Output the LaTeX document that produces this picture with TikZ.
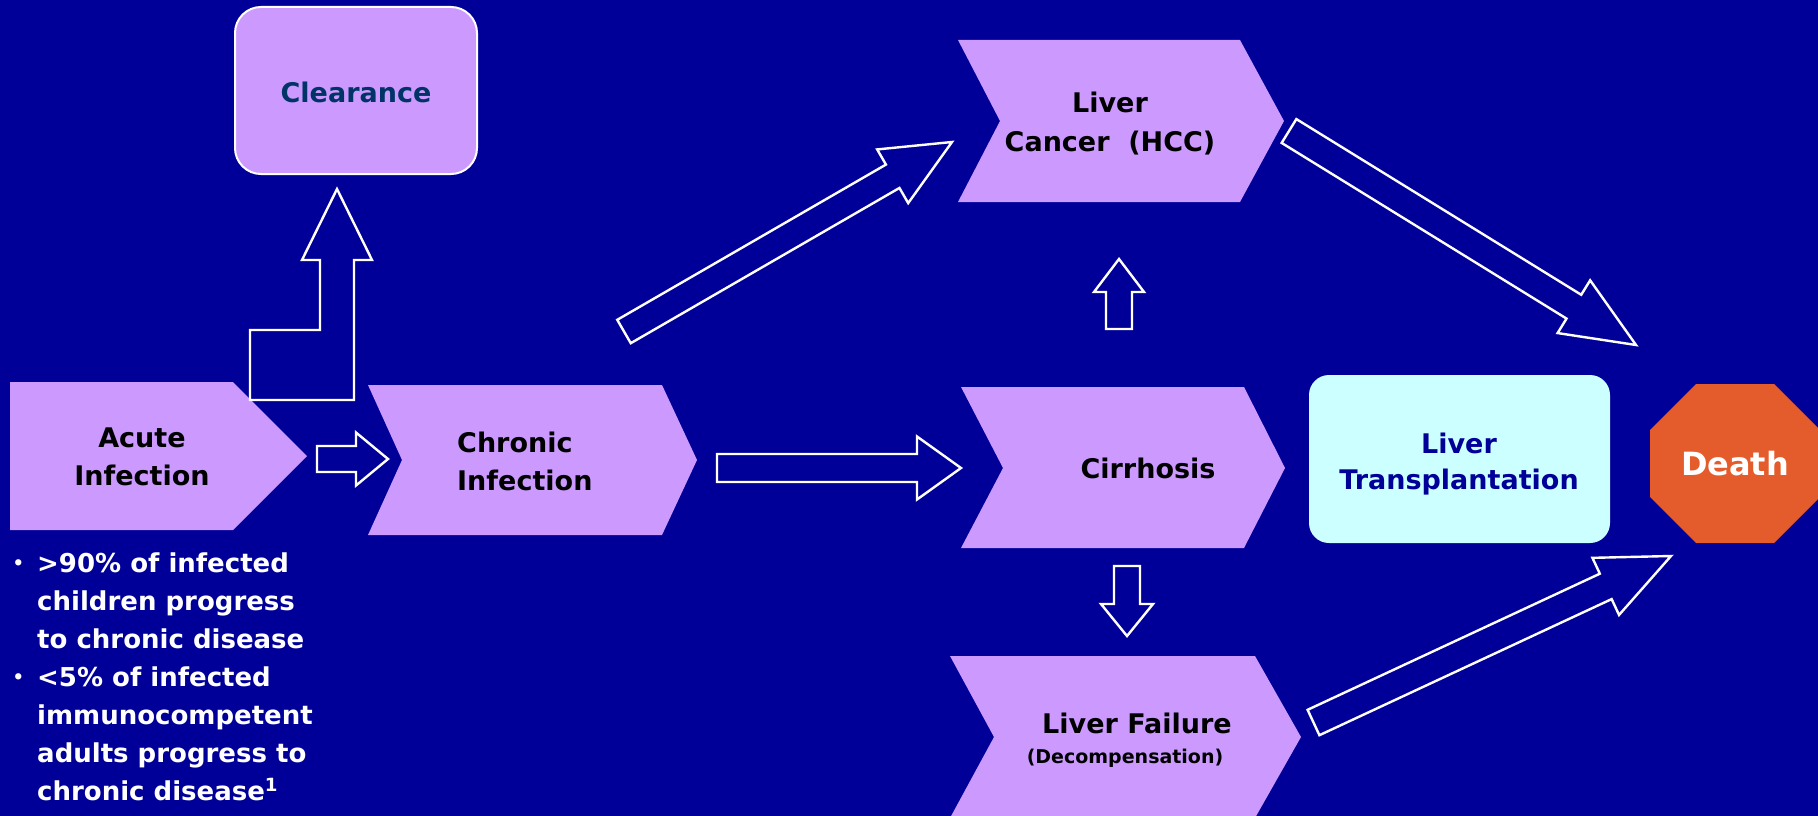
\documentclass[tikz,border=0pt]{standalone}
\usepackage{fontspec}
\setmainfont{DejaVu Sans}
\usetikzlibrary{calc}

\definecolor{slideblue}{RGB}{0,0,153}
\definecolor{stagelilac}{RGB}{204,153,255}
\definecolor{transcyan}{RGB}{204,255,255}
\definecolor{stoporange}{RGB}{229,92,44}
\definecolor{clearnavy}{RGB}{0,51,102}

\tikzset{
    arrowline/.style={draw=white, line width=2.4pt},
    stagetext/.style={font=\fontsize{27}{38}\selectfont\bfseries, align=center, inner sep=0pt},
    notetext/.style={font=\fontsize{26}{38.1}\selectfont\bfseries, text=white, align=left, inner sep=0pt},
}

% hollow block arrow: tail, tip, half shaft, half head, head length
\newcommand{\flowarrow}[5]{%
    \coordinate (fa-base) at ($(#2)!#5!(#1)$);
    \draw[arrowline] ($(#1)!#3!90:(#2)$) -- ($(fa-base)!#3!90:(#2)$)
        -- ($(fa-base)!#4!90:(#2)$) -- (#2) -- ($(fa-base)!#4!-90:(#2)$)
        -- ($(fa-base)!#3!-90:(#2)$) -- ($(#1)!#3!-90:(#2)$) -- cycle;
}
\newcommand{\notebullet}{\llap{\raisebox{3pt}{\fontsize{18}{18}\selectfont •}\hspace{13pt}}}

\begin{document}
\begin{tikzpicture}[x=1pt,y=-1pt]
    \useasboundingbox (0,0) rectangle (1818,816);
    \fill[slideblue] (0,0) rectangle (1818,816);

    % stage chevrons
    \fill[stagelilac] (10,382) -- (233,382) -- (307,456) -- (233,530) -- (10,530) -- cycle;
    \fill[stagelilac] (368,385) -- (662,385) -- (697,460) -- (662,535) -- (368,535) -- (402,460) -- cycle;
    \fill[stagelilac] (958,40) -- (1240,40) -- (1284,121) -- (1240,202) -- (958,202) -- (1000,121) -- cycle;
    \fill[stagelilac] (961,387) -- (1244,387) -- (1285,468) -- (1244,548) -- (961,548) -- (1003,468) -- cycle;
    \fill[stagelilac] (950,656) -- (1255,656) -- (1301,737) -- (1255,818) -- (950,818) -- (994,737) -- cycle;

    % outcome boxes
    \draw[white, line width=2pt, fill=stagelilac, rounded corners=26pt] (235,7) rectangle (477,174);
    \fill[transcyan, rounded corners=20pt] (1309,375) rectangle (1610,543);
    \fill[stoporange] (1650,430) -- (1696,384) -- (1774,384) -- (1820,430) -- (1820,497)
        -- (1774,543) -- (1696,543) -- (1650,497) -- cycle;

    % labels
    \node[stagetext] (acute) at (142,457) {Acute\\Infection};
    \node[stagetext, align=left, anchor=west] (chronic) at (457,461) {Chronic\\Infection};
    \node[stagetext, text=clearnavy] (clearance) at (356,92) {Clearance};
    \node[stagetext, font=\fontsize{27}{39}\selectfont\bfseries] (hcc) at (1110,124) {Liver\\Cancer\ \ (HCC)};
    \node[stagetext] (cirrhosis) at (1148,468) {Cirrhosis};
    \node[stagetext] (failure) at (1137,723) {Liver Failure};
    \node[stagetext, font=\fontsize{19}{23}\selectfont\bfseries] (decomp) at (1125,758) {(Decompensation)};
    \node[stagetext, text=slideblue, font=\fontsize{27}{36}\selectfont\bfseries] (transplant) at (1459,464) {Liver\\Transplantation};
    \node[stagetext, text=white, font=\fontsize{32}{38}\selectfont\bfseries] (death) at (1735,464) {Death};

    % notes under acute infection (anchored at last baseline)
    \node[notetext, anchor=base west] (notes) at (37,800.6) {\notebullet>90\% of infected\\children progress\\to chronic disease\\\notebullet<5\% of infected\\immunocompetent\\adults progress to\\chronic disease\textsuperscript{1}};

    % arrow ends
    \coordinate (acuteR) at (317,459);
    \coordinate (chronicL) at (388,459);
    \coordinate (chronicUp) at (624,331.5);
    \coordinate (hccL) at (952,142);
    \coordinate (chronicR) at (717,468);
    \coordinate (cirrhosisL) at (961,468);
    \coordinate (cirrhosisT) at (1119,329);
    \coordinate (hccB) at (1119,259);
    \coordinate (cirrhosisB) at (1127,566);
    \coordinate (failureT) at (1127,636);
    \coordinate (hccR) at (1289,131);
    \coordinate (deathT) at (1636,345);
    \coordinate (failureR) at (1313.5,722.5);
    \coordinate (deathB) at (1671,556);

    \flowarrow{acuteR}{chronicL}{13pt}{26.5pt}{32pt}
    \flowarrow{chronicUp}{hccL}{13.5pt}{31pt}{68.5pt}
    \flowarrow{chronicR}{cirrhosisL}{14pt}{31.5pt}{44pt}
    \flowarrow{cirrhosisT}{hccB}{13pt}{25pt}{33pt}
    \flowarrow{cirrhosisB}{failureT}{13pt}{26pt}{32pt}
    \flowarrow{hccR}{deathT}{14pt}{31pt}{73pt}
    \flowarrow{failureR}{deathB}{14pt}{31.5pt}{72pt}

    % bent arrow up to clearance
    \draw[arrowline] (250,400) -- (354,400) -- (354,260) -- (372,260) -- (337,189) -- (302,260)
        -- (320,260) -- (320,330) -- (250,330) -- cycle;
\end{tikzpicture}
\end{document}
